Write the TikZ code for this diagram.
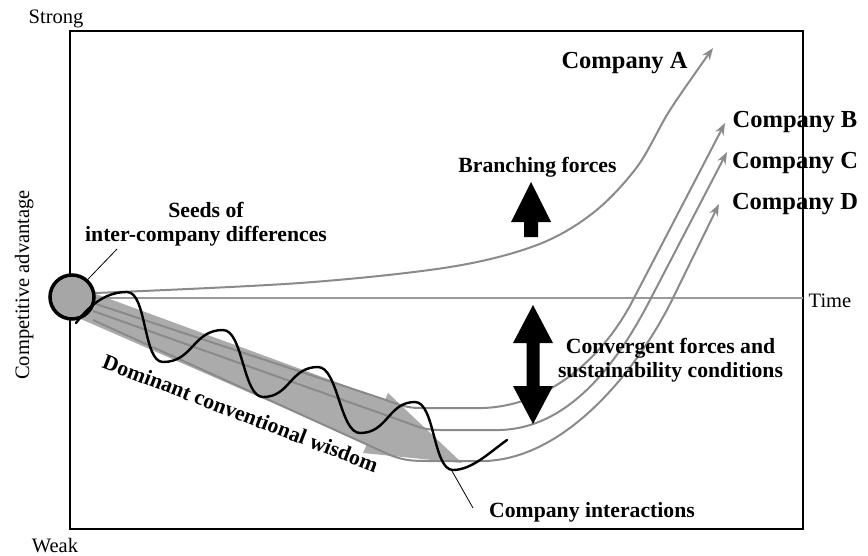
\documentclass[tikz,border=0pt]{standalone}
\usepackage{fontspec}
\setmainfont{Liberation Serif}
\usetikzlibrary{arrows.meta}
\definecolor{linegray}{HTML}{8A8A8A}
\definecolor{bandgray}{HTML}{ABABAB}
\definecolor{circgray}{HTML}{A6A6A6}
\definecolor{axisgray}{HTML}{9A9A9A}
\begin{document}
\begin{tikzpicture}[x=1pt,y=-1pt,
  reg/.style={font=\fontsize{20.5}{24}\selectfont, inner sep=0pt},
  boldlab/.style={font=\fontsize{21.7}{24}\selectfont\bfseries, align=center, inner sep=0pt},
  complab/.style={font=\fontsize{24.5}{28}\selectfont\bfseries, inner sep=0pt},
  traj/.style={draw=linegray, line width=2pt, line join=round, -{Stealth[length=12pt,width=9pt,inset=4pt]}},
  force/.style={fill=black, draw=none},
  leader/.style={draw=black, line width=0.8pt},
  frame/.style={draw=black, line width=1.3pt},
  wave/.style={draw=black, line width=2.4pt, line cap=round}
]
\useasboundingbox (0,0) rectangle (868,555);

% frame
\draw[frame] (70,31) rectangle (803,529);

% dominant conventional wisdom band (wide arrow)
\fill[bandgray] (77,287) -- (385,400) -- (388,393) -- (462,463) -- (363,453) -- (367,444) -- (67,313) -- cycle;

% time axis
\coordinate (t0) at (94,298);
\coordinate (t1) at (803,298);
\draw[draw=axisgray, line width=1.5pt] (t0) -- (t1);

% company trajectories
\draw[traj] plot[smooth, tension=0.55] coordinates {(95,293) (300,283) (450,267) (537,245) (593,213) (637,167) (670,110) (713,48)};
\draw[traj] (93,303) -- (380,398) .. controls (398,404) and (405,408) .. (420,408) -- (483,408)
   .. controls (545,406) and (601,362) .. (633,300) -- (725,123);
\draw[traj] (93,311) -- (405,422) .. controls (420,428) and (428,430) .. (440,430) -- (500,430)
   .. controls (570,428) and (618,362) .. (650,300) -- (727,152);
\draw[traj] (93,320) -- (390,455) .. controls (405,461) and (415,461) .. (430,461) -- (485,461)
   .. controls (570,458) and (641,363) .. (672,300) -- (719,204);

% seed circle
\node[circle, minimum size=44pt, inner sep=0pt, draw=black, line width=3.5pt, fill=circgray] (circ) at (72,297) {};

% company interactions wave
\coordinate (wv) at (452,471);
\draw[wave] (76,323) .. controls (92,302) and (108,292) .. (127,292)
  .. controls (147,292) and (143,362) .. (163,362)
  .. controls (193,362) and (193,330) .. (223,330)
  .. controls (243,330) and (243,397) .. (263,397)
  .. controls (290,397) and (290,367) .. (318,367)
  .. controls (338,367) and (340,433) .. (360,433)
  .. controls (388,433) and (388,402) .. (415,402)
  .. controls (435,402) and (433,470) .. (453,470)
  .. controls (472,470) and (490,452) .. (507,440);

% forces arrows
\fill[force] (524,237) -- (524,222) -- (511,222) -- (531,182) -- (551,222) -- (538,222) -- (538,237) -- cycle;
\fill[force] (533,305) -- (553,343) -- (539.5,343) -- (539.5,386) -- (553,386) -- (533,424) -- (513,386) -- (526.5,386) -- (526.5,343) -- (513,343) -- cycle;

% labels
\node[reg, anchor=base] (strong) at (56,23) {Strong};
\node[reg, anchor=base] (weak) at (55,552) {Weak};
\node[reg, anchor=base] (time) at (830,307) {Time};
\node[reg, anchor=base, rotate=90] (compadv) at (29,285) {Competitive advantage};

\node[complab, anchor=base] (ca) at (624.5,68) {Company A};
\node[complab, anchor=base] (cb) at (795,127) {Company B};
\node[complab, anchor=base] (cc) at (795,168) {Company C};
\node[complab, anchor=base] (cd) at (795,209) {Company D};

\node[boldlab, anchor=base] (branch) at (537.5,172) {Branching forces};
\node[boldlab] (conv) at (670.5,360) {Convergent forces and\\sustainability conditions};
\node[boldlab] (seeds) at (206,224) {Seeds of\\inter-company differences};
\node[boldlab, anchor=base] (inter) at (592,517) {Company interactions};
\node[boldlab, anchor=base, rotate=-21] (dcw) at (238,420) {Dominant conventional wisdom};

% leaders
\coordinate (sd) at (117,249);
\draw[leader] (circ.48) -- (sd);
\coordinate (ciend) at (473,508);
\draw[leader] (wv) -- (ciend);
\end{tikzpicture}
\end{document}
